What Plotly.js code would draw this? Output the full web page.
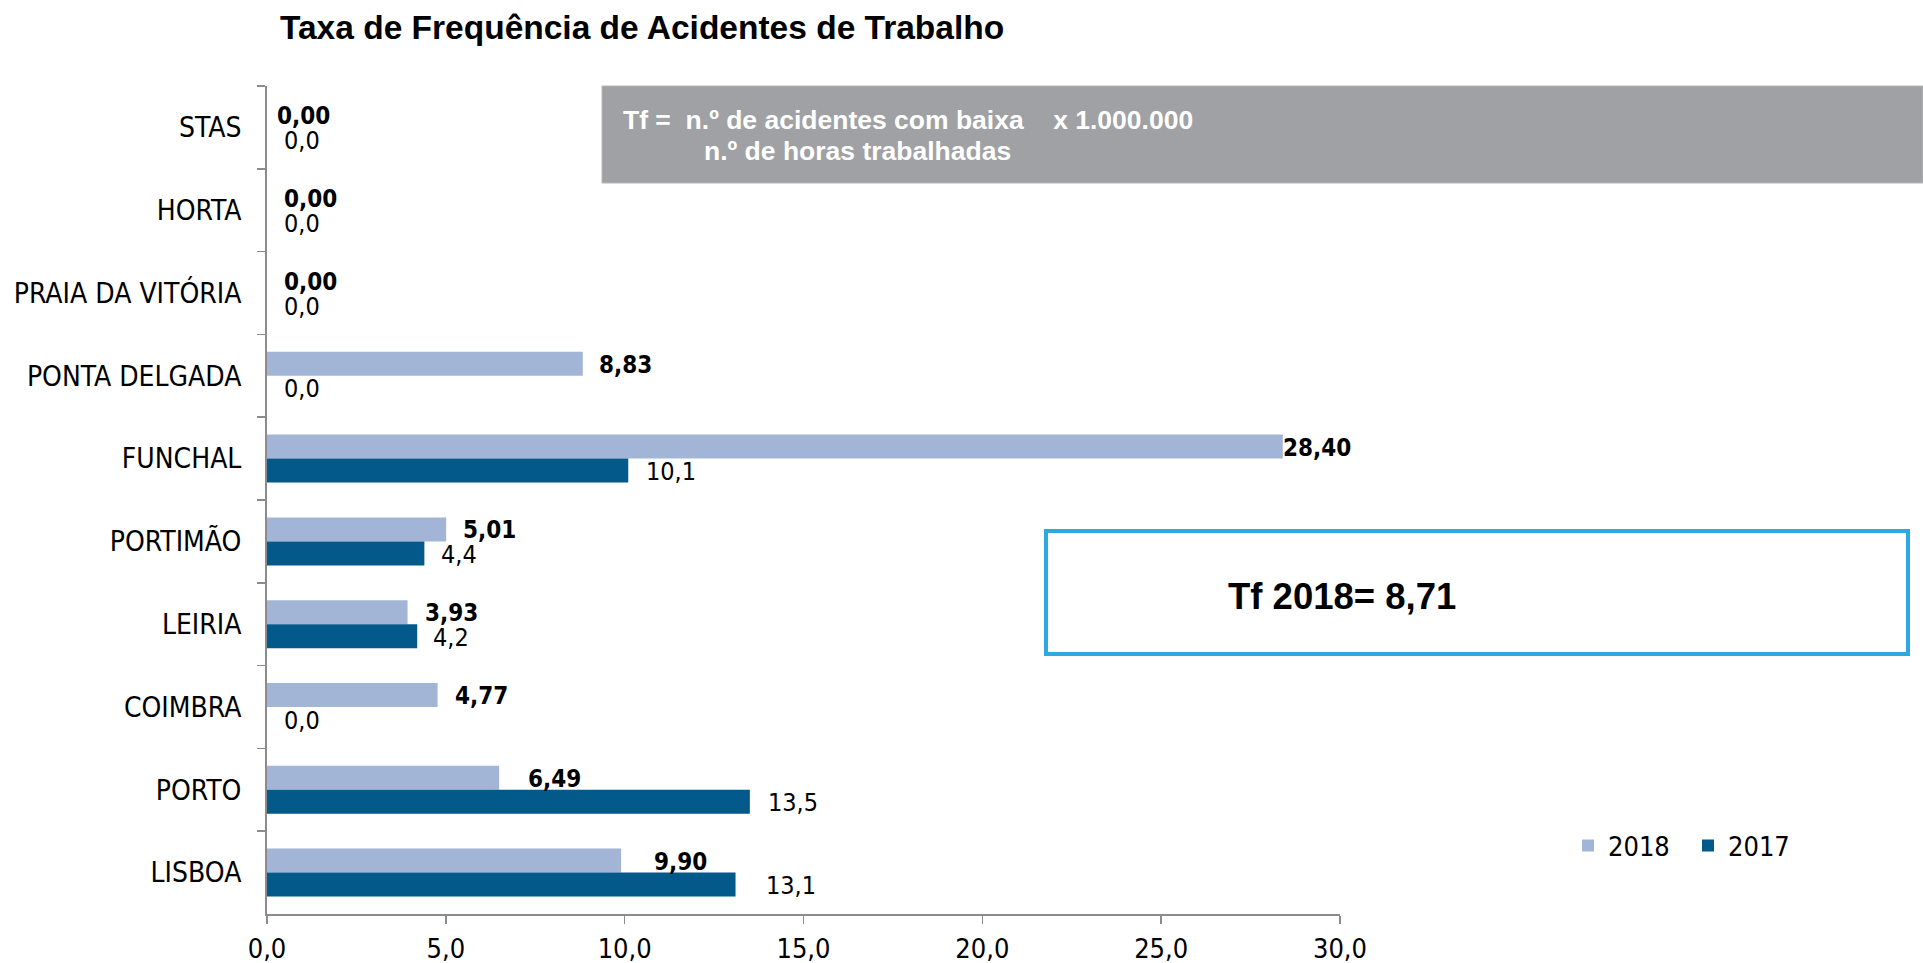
<!DOCTYPE html>
<html><head><meta charset="utf-8">
<script src="https://cdn.plot.ly/plotly-3.0.1.min.js"></script>
<style>html,body{margin:0;padding:0;background:#fff}</style>
</head><body><div id="chart" style="width:1923px;height:963px"></div>
<script>
const categories = ["STAS","HORTA","PRAIA DA VITÓRIA","PONTA DELGADA","FUNCHAL","PORTIMÃO","LEIRIA","COIMBRA","PORTO","LISBOA"];
const values2018 = [0,0,0,8.83,28.40,5.01,3.93,4.77,6.49,9.90];
const values2017 = [0,0,0,0,10.1,4.4,4.2,0,13.5,13.1];
const seriesNames = ["2018","2017"];
const xTickValues = [0,5,10,15,20,25,30];
const xTickLabels = ["0,0","5,0","10,0","15,0","20,0","25,0","30,0"];
const titleText = "Taxa de Frequência de Acidentes de Trabalho";
const formulaLine1 = "Tf =\u00a0\u00a0n.º de acidentes com baixa\u00a0\u00a0\u00a0\u00a0x 1.000.000";
const formulaLine2 = "n.º de horas trabalhadas";
const totalText = "Tf 2018= 8,71";

// label pixel offsets (style)
const labelGap2018 = [8,15,15,14,-2,15,15,15,27,31];
const labelGap2017 = [15,15,15,15,16,15,14,15,16,28];

const L = 267, R = 1340, T = 86, B = 914;
const px2x = p => (p - L) / (R - L);
const px2y = p => (B - p) / (B - T);

const chartFont = "DejaVu Sans Condensed, DejaVu Sans, sans-serif";
const arialFont = "Liberation Sans, Arial, sans-serif";
const colors = ["#A2B5D6", "#03598A"];

const fmt = (v, d) => v.toFixed(d).replace('.', ',');

const traces = [
  {type:'bar', orientation:'h', name:seriesNames[0], y:categories, x:values2018,
   marker:{color:colors[0]}, hoverinfo:'x+y'},
  {type:'bar', orientation:'h', name:seriesNames[1], y:categories, x:values2017,
   marker:{color:colors[1]}, hoverinfo:'x+y'}
];

const annotations = [];
categories.forEach((c, i) => {
  annotations.push({x:values2018[i], y:c, xref:'x', yref:'y', text:'<b>'+fmt(values2018[i],2)+'</b>',
    showarrow:false, xanchor:'left', yanchor:'middle', xshift:labelGap2018[i], yshift:11,
    font:{family:chartFont, size:24, color:'#000'}});
  annotations.push({x:values2017[i], y:c, xref:'x', yref:'y', text:fmt(values2017[i],1),
    showarrow:false, xanchor:'left', yanchor:'middle', xshift:labelGap2017[i], yshift:-13,
    font:{family:chartFont, size:25, color:'#000'}});
});
annotations.push({xref:'paper', yref:'paper', x:px2x(621), y:px2y(120), text:'<b>'+formulaLine1+'</b>',
  showarrow:false, xanchor:'left', yanchor:'middle', font:{family:arialFont, size:26.5, color:'#fff'}});
annotations.push({xref:'paper', yref:'paper', x:px2x(702), y:px2y(151), text:'<b>'+formulaLine2+'</b>',
  showarrow:false, xanchor:'left', yanchor:'middle', font:{family:arialFont, size:26.5, color:'#fff'}});
annotations.push({xref:'paper', yref:'paper', x:px2x(1226), y:px2y(596), text:'<b>'+totalText+'</b>',
  showarrow:false, xanchor:'left', yanchor:'middle', font:{family:arialFont, size:36.5, color:'#000'}});

const layout = {
  width:1923, height:963,
  margin:{l:L, r:1923-R, t:T, b:963-B},
  paper_bgcolor:'#fff', plot_bgcolor:'#fff',
  separators:',.',
  barmode:'group', bargap:0.42, bargroupgap:0,
  title:{text:'<b>'+titleText+'</b>', x:280/1923, xanchor:'left', xref:'container',
         y:1-27/963, yanchor:'middle', yref:'container',
         font:{family:arialFont, size:33.5, color:'#000'}},
  xaxis:{range:[0,30], tickvals:xTickValues, ticktext:xTickLabels, showgrid:false, zeroline:false,
         showline:true, linecolor:'#8c8c8c', linewidth:2, ticks:'outside', ticklen:8, tickwidth:1.5,
         tickcolor:'#8c8c8c', ticklabelstandoff:2, fixedrange:true,
         tickfont:{family:chartFont, size:27, color:'#000'}},
  yaxis:{type:'category', categoryorder:'array', categoryarray:categories, autorange:'reversed',
         showgrid:false, zeroline:false, showline:true, linecolor:'#8c8c8c', linewidth:2,
         ticks:'outside', tickson:'boundaries', ticklen:8, tickwidth:1.5, tickcolor:'#8c8c8c',
         ticklabelstandoff:18, fixedrange:true,
         tickfont:{family:chartFont, size:28, color:'#000'}},
  showlegend:true,
  legend:{orientation:'h', x:px2x(1568), y:px2y(846), xanchor:'left', yanchor:'middle',
          font:{family:chartFont, size:27, color:'#000'}, itemwidth:30, entrywidth:75,
          bgcolor:'rgba(0,0,0,0)'},
  shapes:[
    {type:'rect', xref:'paper', yref:'paper', x0:px2x(602), x1:px2x(1923), y0:px2y(183), y1:px2y(86),
     fillcolor:'#A0A1A5', line:{color:'#B5B6B9', width:1}, layer:'above'},
    {type:'rect', xref:'paper', yref:'paper', x0:px2x(1046), x1:px2x(1908), y0:px2y(654), y1:px2y(531),
     fillcolor:'rgba(0,0,0,0)', line:{color:'#2EA9DF', width:4}, layer:'above'}
  ],
  annotations:annotations
};

Plotly.newPlot('chart', traces, layout, {displayModeBar:false, staticPlot:true});
</script>
</body></html>
